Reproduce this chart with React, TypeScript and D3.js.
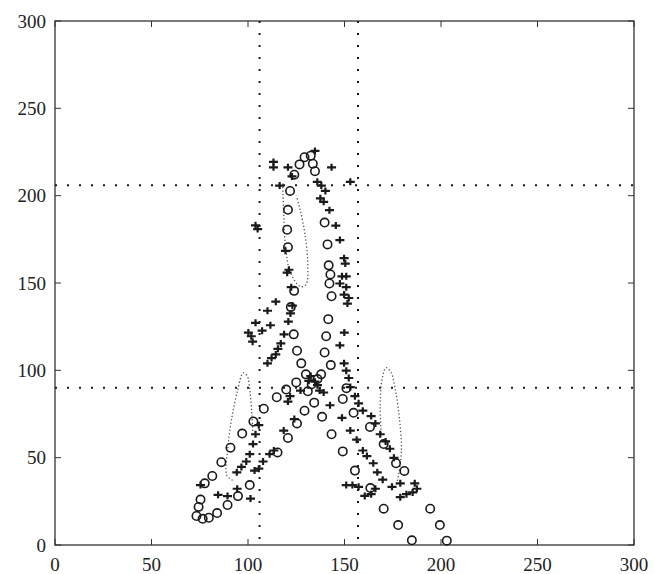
import * as d3 from "d3";
import { useEffect, useRef } from "react";

// circle markers
const circles: [number, number][] = [
  [73.3, 16.6], [74.4, 21.8], [75.4, 26], [76.5, 15], [79.7, 15.6], [84, 18.3],
  [89.4, 22.9], [94.8, 28], [100.9, 34.3], [81.5, 39.5], [77.6, 35.3], [86.2, 47.4],
  [90.9, 55.7], [97, 63.8], [102.8, 70.7], [108.2, 78], [114.9, 84.6], [119.8, 89],
  [125, 93.1], [130, 97.7], [115.3, 53], [120.7, 61.3], [125.4, 69.6], [129.3, 76.9],
  [134.3, 81.5], [138.4, 73.4], [143.3, 63.4], [149.1, 53.6], [155.4, 42.6],
  [163.4, 32.6], [170.3, 20.8], [177.8, 11.4], [184.9, 2.7], [194.4, 20.8],
  [199.4, 11.4], [203, 2.5], [137.9, 97.7], [142.9, 103], [149.1, 83.6],
  [154.7, 75.7], [163.2, 67.6], [170.3, 57.8], [176.7, 46.8], [181, 42.4],
  [123.9, 145.5], [122.2, 136.2], [123.7, 120.6], [125.4, 111.2], [127.6, 104],
  [120.7, 170.5], [120.3, 180.5], [120.7, 191.9], [121.8, 202.7], [124, 212],
  [126.7, 217.9], [129.3, 222], [132.5, 222.9], [133.6, 218.3], [134.7, 214],
  [139.7, 184.6], [141.2, 172.1], [141.8, 160.1], [142.7, 154.9], [142.2, 149.7],
  [143.3, 142.4], [141.6, 129.3], [140.5, 119.5], [139.7, 110.2], [151, 89.8],
  [133, 92], [136, 95], [131, 88],
];

// plus markers
const pluses: [number, number][] = [
  [75.4, 34.3], [84.5, 28.7], [89.4, 28], [94.4, 32.2], [94.2, 41.6], [96.6, 44.7],
  [99.1, 47.8], [100.9, 52], [102.6, 57.8], [103.9, 63.4], [105.6, 68.6],
  [103.4, 42.6], [105.6, 43.7], [107.8, 47.8], [111.2, 52], [113.4, 54.1],
  [101.3, 26.6], [100.2, 121.6], [101.7, 119.5], [102.4, 116.4], [103.9, 127.2],
  [107.3, 122.7], [111.6, 125.8], [110.1, 134.1], [114.4, 139.3], [103.9, 183],
  [105, 180.9], [113.2, 219.3], [113.2, 216.2], [110.1, 104], [112.2, 107],
  [114.4, 109.1], [115.5, 112.3], [117, 115.4], [118.7, 120.6], [120.9, 127.9],
  [122, 132.6], [123, 137], [122.4, 147.6], [120.3, 155.9], [121.2, 157.6],
  [119.4, 168.4], [116.4, 205.8], [120.7, 216.2], [122.8, 211], [132.5, 96.7],
  [131.5, 94], [134.7, 93.5], [136, 91.5], [137.1, 88.4], [127.2, 88.4],
  [139.2, 87.3], [142.5, 80], [121.8, 85.2], [120.7, 82.1], [118.5, 65.5],
  [124, 72.1], [134.7, 225.6], [143.3, 216.2], [135.9, 207.9], [138, 205.8],
  [140.1, 202.7], [137.5, 198.5], [139.2, 196.5], [142.2, 191.7], [145.5, 182.9],
  [147.6, 174.6], [149.8, 164.2], [150.4, 161.1], [150.9, 153.8], [150.9, 147.6],
  [149.8, 143.4], [152.2, 141.4], [151.5, 138.2], [148.7, 153.8], [147.6, 149.7],
  [153, 207.9], [149.9, 121.6], [147.6, 114.3], [149.8, 104], [150.9, 99.8],
  [152.2, 95.6], [153, 90.4], [155.4, 85.2], [157.3, 81.1], [159.5, 76.9],
  [163.8, 73.8], [166, 69.6], [168.5, 63.4], [171.3, 59.3], [173.5, 55.1],
  [175.6, 49.9], [178.9, 35.3], [148.7, 72.8], [153, 65.5], [156.3, 60.3],
  [159.5, 54.1], [161.6, 50.9], [164.9, 46.8], [167, 41.6], [169.8, 37.4],
  [174.6, 33.3], [150.9, 34.3], [154.1, 34.3], [157.3, 33.3], [160.5, 28.1],
  [163.8, 29.1], [166, 32.2], [178.9, 27.4], [182.1, 29.1], [185.3, 30.1],
  [187.5, 32.2], [186.4, 35.3],
];

// thin dotted loops
const loopLeft: [number, number][] = [
  [92, 37], [89, 40], [89.5, 55], [91.5, 72], [94.5, 88], [97.5, 98.5],
  [99.5, 97], [101, 88], [102, 75], [102.5, 64],
];
const loopMid: [number, number][] = [
  [118, 207], [118.5, 190], [119.5, 170], [122, 156], [127, 148], [130, 149],
  [131, 160], [129.5, 178], [127, 192], [125, 200],
];
const loopRight: [number, number][] = [
  [169, 64], [168.5, 80], [169.5, 95], [171.5, 101.5], [174, 99], [176.5, 88],
  [178.5, 72], [179.5, 55], [178, 40], [176.5, 33],
];

const refX = [106, 157];
const refY = [206, 90];
const ticks = [0, 50, 100, 150, 200, 250, 300];

export default function App() {
  const ref = useRef<SVGSVGElement>(null);

  useEffect(() => {
    const svg = d3.select(ref.current);
    svg.selectAll("*").remove();

    const margin = { left: 55, right: 20, top: 21, bottom: 29 };
    const W = 654, H = 574;
    const x = d3.scaleLinear().domain([0, 300]).range([margin.left, W - margin.right]);
    const y = d3.scaleLinear().domain([0, 300]).range([H - margin.bottom, margin.top]);
    const ink = "#1a1a1a";

    svg.append("rect").attr("width", W).attr("height", H).attr("fill", "#fff");

    // frame
    svg.append("rect")
      .attr("x", x(0)).attr("y", y(300))
      .attr("width", x(300) - x(0)).attr("height", y(0) - y(300))
      .attr("fill", "none").attr("stroke", "#333").attr("stroke-width", 1.3);

    // inward ticks on all four sides
    const tk = 6;
    ticks.forEach(t => {
      svg.append("line").attr("x1", x(t)).attr("x2", x(t)).attr("y1", y(0)).attr("y2", y(0) - tk).attr("stroke", "#333");
      svg.append("line").attr("x1", x(t)).attr("x2", x(t)).attr("y1", y(300)).attr("y2", y(300) + tk).attr("stroke", "#333");
      svg.append("line").attr("y1", y(t)).attr("y2", y(t)).attr("x1", x(0)).attr("x2", x(0) + tk).attr("stroke", "#333");
      svg.append("line").attr("y1", y(t)).attr("y2", y(t)).attr("x1", x(300)).attr("x2", x(300) - tk).attr("stroke", "#333");
    });

    const font = "'Liberation Serif', 'DejaVu Serif', serif";
    svg.append("g").selectAll("text").data(ticks).enter().append("text")
      .attr("x", d => x(d)).attr("y", H - 3)
      .attr("text-anchor", "middle").attr("font-family", font).attr("font-size", 19)
      .attr("fill", "#222").text(d => d);
    svg.append("g").selectAll("text").data(ticks).enter().append("text")
      .attr("x", x(0) - 9).attr("y", d => y(d)).attr("dy", "0.35em")
      .attr("text-anchor", "end").attr("font-family", font).attr("font-size", 19)
      .attr("fill", "#222").text(d => d);

    // dotted reference lines
    refX.forEach(v => {
      svg.append("line").attr("x1", x(v)).attr("x2", x(v)).attr("y1", y(300)).attr("y2", y(0))
        .attr("stroke", ink).attr("stroke-width", 2).attr("stroke-dasharray", "2,10");
    });
    refY.forEach(v => {
      svg.append("line").attr("x1", x(0)).attr("x2", x(300)).attr("y1", y(v)).attr("y2", y(v))
        .attr("stroke", ink).attr("stroke-width", 2).attr("stroke-dasharray", "2,10");
    });

    // thin dotted loops
    const line = d3.line<[number, number]>().x(d => x(d[0])).y(d => y(d[1])).curve(d3.curveCatmullRom);
    [loopLeft, loopMid, loopRight].forEach(l => {
      svg.append("path").attr("d", line(l)).attr("fill", "none")
        .attr("stroke", "#555").attr("stroke-width", 1.3).attr("stroke-dasharray", "1.3,2.2");
    });

    svg.append("g").selectAll("circle").data(circles).enter().append("circle")
      .attr("cx", d => x(d[0])).attr("cy", d => y(d[1])).attr("r", 4.2)
      .attr("fill", "none").attr("stroke", ink).attr("stroke-width", 1.6);

    const s = 4.5;
    svg.append("g").selectAll("path").data(pluses).enter().append("path")
      .attr("d", d => `M${x(d[0]) - s},${y(d[1])}H${x(d[0]) + s}M${x(d[0])},${y(d[1]) - s + 1}V${y(d[1]) + s - 1}`)
      .attr("stroke", ink).attr("stroke-width", 2.2);
  }, []);

  return (
    <svg ref={ref} width={654} height={574}
      style={{ position: "absolute", left: 0, top: 0 }} />
  );
}
